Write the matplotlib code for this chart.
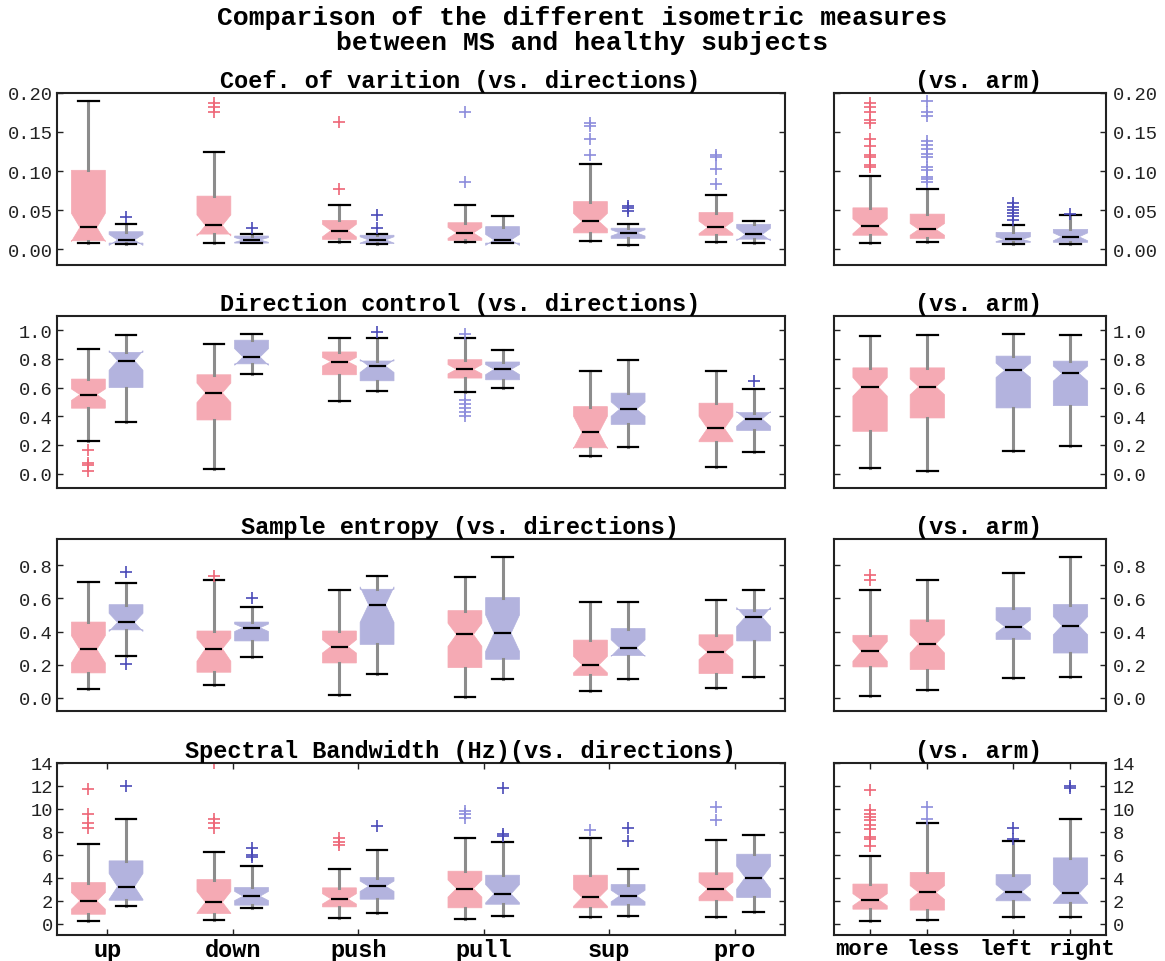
import numpy as np
import matplotlib.pyplot as plt
from matplotlib.transforms import ScaledTranslation

plt.rcParams['font.family'] = ['Liberation Mono', 'DejaVu Sans Mono']

directions = ['up', 'down', 'push', 'pull', 'sup', 'pro']
arms = ['more', 'less', 'left', 'right']

# each row: whislo, q1, cilo, med, cihi, q3, whishi
cov_ms = [[0.008, 0.011, 0.010, 0.028, 0.046, 0.101, 0.189],
          [0.0076, 0.0195, 0.017, 0.0306, 0.044, 0.068, 0.124],
          [0.009, 0.0127, 0.016, 0.024, 0.032, 0.037, 0.0565],
          [0.009, 0.0115, 0.014, 0.021, 0.028, 0.034, 0.057],
          [0.011, 0.021, 0.026, 0.0357, 0.046, 0.061, 0.109],
          [0.0098, 0.018, 0.020, 0.028, 0.036, 0.047, 0.069]]
cov_ms_fl = [[], [0.176, 0.182, 0.187], [0.077, 0.163], [0.086, 0.175],
             [0.120, 0.141, 0.158, 0.162], [0.084, 0.103, 0.118, 0.121]]
cov_ms_fc = ['r', 'r', 'r', 'l', 'l', 'l']
cov_hs = [[0.007, 0.008, 0.005, 0.012, 0.019, 0.0225, 0.032],
          [0.0076, 0.008, 0.009, 0.012, 0.015, 0.017, 0.019],
          [0.007, 0.0076, 0.008, 0.012, 0.016, 0.018, 0.020],
          [0.0076, 0.008, 0.005, 0.012, 0.019, 0.029, 0.043],
          [0.006, 0.014, 0.017, 0.021, 0.025, 0.027, 0.033],
          [0.0085, 0.013, 0.011, 0.019, 0.027, 0.032, 0.036]]
cov_hs_fl = [[0.041], [0.027], [0.027, 0.044], [], [0.049, 0.053, 0.056], []]
cov_arm = [[0.0076, 0.018, 0.020, 0.0297, 0.039, 0.053, 0.094],
           [0.009, 0.014, 0.018, 0.0255, 0.033, 0.045, 0.0777],
           [0.0068, 0.009, 0.010, 0.0127, 0.016, 0.0217, 0.031],
           [0.0064, 0.009, 0.011, 0.016, 0.021, 0.0255, 0.044]]
cov_arm_fl = [[0.105, 0.108, 0.118, 0.120, 0.132, 0.141, 0.162, 0.165, 0.175, 0.182, 0.187],
              [0.086, 0.090, 0.093, 0.101, 0.105, 0.118, 0.122, 0.128, 0.133, 0.138, 0.170, 0.175, 0.190],
              [0.037, 0.042, 0.046, 0.050, 0.054, 0.059],
              [0.045]]
cov_arm_fc = ['r', 'l', 'b', 'b']

dc_ms = [[0.229, 0.456, 0.51, 0.551, 0.59, 0.659, 0.869],
         [0.035, 0.374, 0.495, 0.563, 0.631, 0.689, 0.900],
         [0.507, 0.689, 0.75, 0.780, 0.81, 0.848, 0.942],
         [0.572, 0.666, 0.695, 0.727, 0.76, 0.794, 0.946],
         [0.124, 0.180, 0.175, 0.287, 0.40, 0.467, 0.713],
         [0.044, 0.222, 0.23, 0.315, 0.40, 0.491, 0.713]]
dc_ms_fl = [[0.016, 0.058, 0.075, 0.168], [], [],
            [0.404, 0.428, 0.456, 0.484, 0.514, 0.970], [], []]
dc_ms_fc = ['r', 'r', 'r', 'l', 'l', 'l']
dc_hs = [[0.362, 0.600, 0.72, 0.787, 0.857, 0.845, 0.965],
         [0.696, 0.765, 0.755, 0.813, 0.871, 0.930, 0.974],
         [0.579, 0.647, 0.705, 0.750, 0.795, 0.785, 0.946],
         [0.596, 0.654, 0.69, 0.727, 0.76, 0.778, 0.864],
         [0.185, 0.343, 0.40, 0.449, 0.50, 0.561, 0.790],
         [0.152, 0.301, 0.33, 0.381, 0.432, 0.425, 0.591]]
dc_hs_fl = [[], [], [0.984], [], [], [0.643]]
dc_arm = [[0.040, 0.295, 0.54, 0.602, 0.67, 0.737, 0.958],
          [0.021, 0.388, 0.55, 0.605, 0.66, 0.737, 0.965],
          [0.156, 0.458, 0.67, 0.719, 0.77, 0.819, 0.974],
          [0.195, 0.474, 0.645, 0.698, 0.75, 0.784, 0.965]]
dc_arm_fl = [[], [], [], []]
dc_arm_fc = ['r', 'l', 'b', 'b']

se_ms = [[0.054, 0.150, 0.21, 0.292, 0.375, 0.457, 0.699],
         [0.079, 0.154, 0.22, 0.296, 0.36, 0.403, 0.712],
         [0.015, 0.210, 0.27, 0.309, 0.35, 0.403, 0.652],
         [0.006, 0.182, 0.31, 0.382, 0.45, 0.526, 0.729],
         [0.039, 0.135, 0.15, 0.199, 0.25, 0.348, 0.581],
         [0.060, 0.146, 0.23, 0.275, 0.32, 0.380, 0.588]]
se_ms_fl = [[], [0.738], [], [], [], []]
se_ms_fc = ['r', 'r', 'r', 'l', 'l', 'l']
se_hs = [[0.255, 0.41, 0.40, 0.455, 0.51, 0.562, 0.691],
         [0.249, 0.343, 0.40, 0.423, 0.445, 0.457, 0.545],
         [0.144, 0.322, 0.455, 0.562, 0.67, 0.655, 0.734],
         [0.114, 0.232, 0.28, 0.390, 0.50, 0.605, 0.847],
         [0.114, 0.255, 0.25, 0.302, 0.35, 0.418, 0.577],
         [0.124, 0.343, 0.43, 0.487, 0.545, 0.532, 0.648]]
se_hs_fl = [[0.204, 0.757], [0.605], [], [], [], []]
se_arm = [[0.013, 0.186, 0.22, 0.28, 0.34, 0.377, 0.653],
          [0.045, 0.17, 0.27, 0.326, 0.38, 0.47, 0.71],
          [0.12, 0.352, 0.39, 0.43, 0.47, 0.544, 0.755],
          [0.128, 0.27, 0.38, 0.435, 0.49, 0.563, 0.85]]
se_arm_fl = [[0.71, 0.742], [], [], []]
se_arm_fc = ['r', 'l', 'b', 'b']

sb_ms = [[0.26, 0.81, 1.25, 1.98, 2.7, 3.57, 6.91],
         [0.35, 0.87, 0.9, 1.86, 2.8, 3.83, 6.19],
         [0.49, 1.45, 1.7, 2.15, 2.6, 3.11, 4.76],
         [0.38, 1.37, 2.3, 3.05, 3.8, 4.56, 7.49],
         [0.58, 1.37, 1.5, 2.27, 3.0, 4.21, 7.41],
         [0.58, 1.98, 2.3, 3.02, 3.6, 4.42, 7.26]]
sb_ms_fl = [[8.34, 8.80, 9.50, 11.68], [8.34, 8.77, 9.15, 13.95], [6.83, 7.12, 7.47],
            [9.21, 9.50, 9.79], [8.19], [9.0, 10.17]]
sb_ms_fc = ['r', 'r', 'r', 'l', 'l', 'l']
sb_hs = [[1.54, 2.03, 2.1, 3.22, 4.36, 5.46, 9.12],
         [1.39, 1.60, 2.0, 2.38, 2.8, 3.14, 5.03],
         [0.93, 2.12, 2.8, 3.25, 3.7, 4.01, 6.39],
         [0.67, 1.68, 1.8, 2.59, 3.4, 4.21, 7.12],
         [0.67, 1.60, 1.9, 2.41, 2.9, 3.40, 4.79],
         [1.02, 2.27, 3.0, 4.01, 5.0, 6.04, 7.70]]
sb_hs_fl = [[12.0], [5.81, 5.96, 6.62], [8.48], [7.64, 7.79, 11.85], [7.18, 8.34], []]
sb_arm = [[0.23, 1.25, 1.55, 2.07, 2.6, 3.44, 5.92],
          [0.29, 1.17, 2.1, 2.71, 3.3, 4.46, 8.75],
          [0.61, 1.98, 2.15, 2.77, 3.4, 4.26, 7.18],
          [0.61, 1.75, 1.8, 2.63, 3.44, 5.72, 9.07]]
sb_arm_fl = [[6.74, 7.38, 7.53, 8.25, 8.55, 8.98, 9.28, 9.57, 9.86, 11.67],
             [9.07, 10.15], [7.38, 8.31], [11.81, 11.96]]
sb_arm_fc = ['r', 'l', 'b', 'b']

titles = ['Coef. of varition (vs. directions)',
          'Direction control (vs. directions)',
          'Sample entropy (vs. directions)',
          'Spectral Bandwidth (Hz)(vs. directions)']

pink = '#f5aab4'
lilac = '#b3b3de'
flier_colors = {'r': '#ee6677', 'l': '#8c8cdc', 'b': '#4a4ab8'}


def make_stats(rows, fliers):
    out = []
    for r, f in zip(rows, fliers):
        out.append(dict(whislo=r[0], q1=r[1], cilo=r[2], med=r[3], cihi=r[4],
                        q3=r[5], whishi=r[6], fliers=np.array(f)))
    return out


def draw_boxes(ax, stats, positions, width, colors, fcodes):
    b = ax.bxp(stats, positions=positions, widths=width, shownotches=True,
               patch_artist=True, manage_ticks=False, capwidths=width * 0.6,
               whiskerprops=dict(color='#8c8c8c', lw=2.2),
               capprops=dict(color='black', lw=1.6),
               medianprops=dict(color='black', lw=1.6),
               flierprops=dict(marker='+', markersize=8, mew=1.2, linestyle='none'))
    for patch, c in zip(b['boxes'], colors):
        patch.set_facecolor(c)
        patch.set_edgecolor(c)
        patch.set_linewidth(0.5)
    for fl, code in zip(b['fliers'], fcodes):
        fl.set_markeredgecolor(flier_colors[code])
    return b


fig = plt.figure(figsize=(11.65, 9.62), dpi=100)
fig.text(0.5, 1 - 6 / 962., 'Comparison of the different isometric measures\n'
         'between MS and healthy subjects', ha='center', va='top',
         fontsize=19, fontweight='bold', linespacing=1.07)

bottoms = [0.7235, 0.4917, 0.2599, 0.027]
height = 0.179
left_rect = (57 / 1165., 728 / 1165.)
right_rect = (834 / 1165., 272 / 1165.)

panels = [(cov_ms, cov_ms_fl, cov_ms_fc, cov_hs, cov_hs_fl, cov_arm, cov_arm_fl, cov_arm_fc),
          (dc_ms, dc_ms_fl, dc_ms_fc, dc_hs, dc_hs_fl, dc_arm, dc_arm_fl, dc_arm_fc),
          (se_ms, se_ms_fl, se_ms_fc, se_hs, se_hs_fl, se_arm, se_arm_fl, se_arm_fc),
          (sb_ms, sb_ms_fl, sb_ms_fc, sb_hs, sb_hs_fl, sb_arm, sb_arm_fl, sb_arm_fc)]
ylims = [(-0.02, 0.20), (-0.1, 1.1), (-0.08, 0.96), (-1.0, 14.0)]
yticks = [np.arange(0, 0.201, 0.05), np.arange(0, 1.01, 0.2),
          np.arange(0, 0.81, 0.2), np.arange(0, 14.1, 2)]
yfmt = ['%.2f', '%.1f', '%.1f', '%d']

pos = np.arange(1, len(directions) + 1)
arm_pos = np.array([1, 2, 3.5, 4.5])
# the arm labels sit a little off their ticks in the original
arm_label_shift = [-8, 6, -7, 12]

for i, (ms, ms_fl, ms_fc, hs, hs_fl, arm, arm_fl, arm_fc) in enumerate(panels):
    ax = fig.add_axes([left_rect[0], bottoms[i], left_rect[1], height])
    draw_boxes(ax, make_stats(ms, ms_fl), pos - 0.15, 0.27, [pink] * 6, ms_fc)
    draw_boxes(ax, make_stats(hs, hs_fl), pos + 0.15, 0.27, [lilac] * 6, ['b'] * 6)
    ax.set_xlim(0.6, 6.4)

    ax2 = fig.add_axes([right_rect[0], bottoms[i], right_rect[1], height])
    draw_boxes(ax2, make_stats(arm, arm_fl), arm_pos, 0.6,
               [pink, pink, lilac, lilac], arm_fc)
    ax2.set_xlim(0.37, 5.12)

    for a in (ax, ax2):
        a.set_ylim(*ylims[i])
        a.set_yticks(yticks[i])
        a.set_yticklabels([yfmt[i] % v for v in yticks[i]])
        a.tick_params(direction='in', length=4, width=1, top=True, right=True,
                      left=True, labelsize=13.5, pad=3, colors='#222222')
        for s in a.spines.values():
            s.set_linewidth(1.5)
            s.set_color('#222222')
        if i < 3:
            a.set_xticks([])
    ax2.tick_params(labelleft=False, labelright=True, pad=5)

    ax.set_title(titles[i], x=0.554, pad=4, fontsize=17, fontweight='bold')
    ax2.set_title('(vs. arm)', x=0.53, pad=4, fontsize=17, fontweight='bold')

    if i == 3:
        ax.set_xticks(pos)
        ax.set_xticklabels(directions, fontsize=17, fontweight='bold', color='black')
        ax2.set_xticks(arm_pos)
        ax2.set_xticklabels(arms, fontsize=16, fontweight='bold', color='black')
        ax.tick_params(axis='x', pad=2)
        ax2.tick_params(axis='x', pad=2)
        for lab, dx in zip(ax2.get_xticklabels(), arm_label_shift):
            lab.set_transform(lab.get_transform() +
                              ScaledTranslation(dx / 100., 0, fig.dpi_scale_trans))

fig.savefig('out.png', dpi=100)
